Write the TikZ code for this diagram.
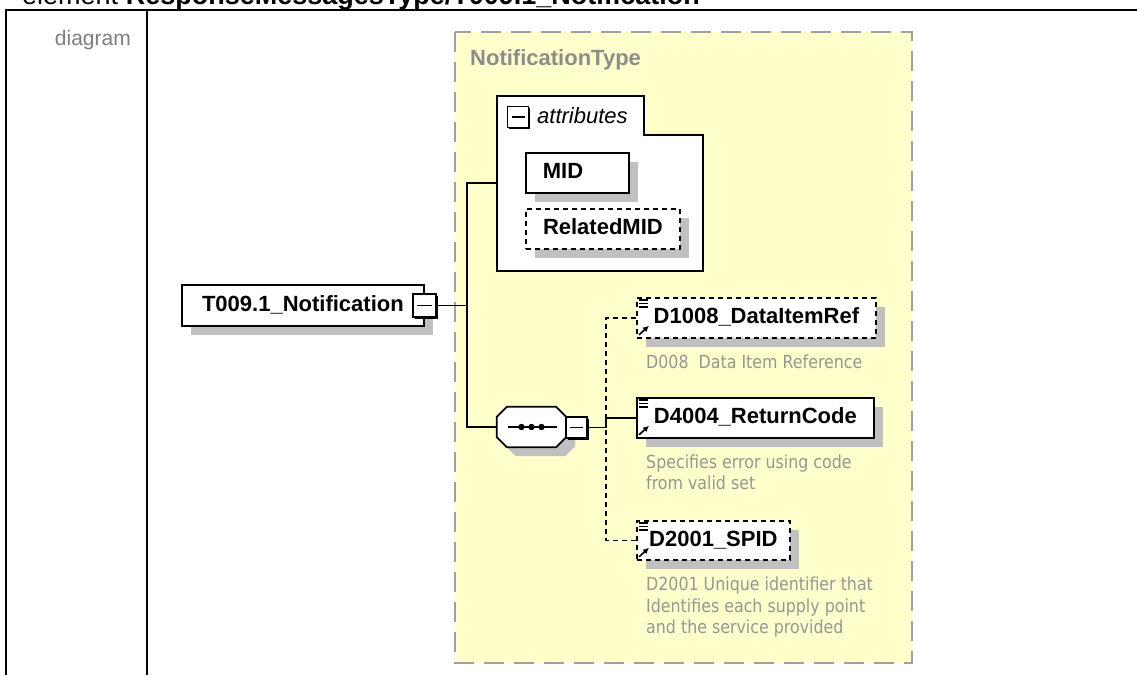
\documentclass[tikz,border=0pt]{standalone}
\usepackage{fontspec}
\setmainfont{Liberation Sans}
\newfontfamily\descfont[FakeStretch=0.88]{DejaVu Sans}
\usetikzlibrary{shadows, arrows.meta}
\definecolor{typeyellow}{HTML}{FFFFCC}
\definecolor{typeborder}{HTML}{A0A0A0}
\definecolor{shadowgray}{HTML}{C0C0C0}
\definecolor{desctext}{HTML}{969696}
\definecolor{labelgray}{HTML}{8C8C8C}

\begin{document}
\begin{tikzpicture}[x=1pt, y=-1pt,
    elem/.style={draw, fill=white, line width=1.8pt, anchor=north west, minimum height=40pt,
      inner xsep=0pt, inner ysep=0pt, text height=16pt, text depth=4pt,
      font=\bfseries\fontsize{22}{24}\selectfont,
      drop shadow={shadow xshift=9pt, shadow yshift=-9pt, fill=shadowgray, opacity=1}},
    optional/.style={dash pattern=on 5pt off 4pt},
    collapse/.style={draw, fill=white, line width=1.2pt, minimum size=21pt, inner sep=0pt,
      drop shadow={shadow xshift=1.5pt, shadow yshift=-1.5pt, fill=black, opacity=1},
      path picture={\draw[line width=1.4pt] ([xshift=4pt]path picture bounding box.west) -- ([xshift=-4pt]path picture bounding box.east);}},
    conn/.style={line width=1.4pt},
    desc/.style={anchor=north west, inner sep=0pt, align=left, text=desctext,
      font=\descfont\fontsize{18}{21.5}\selectfont}]
    \clip (0,0) rectangle (1137,675);
    % title and table
    \node[anchor=base west, inner sep=0pt, font=\fontsize{27}{29}\selectfont] (title) at (22,4)
        {element \textbf{ResponseMessagesType/T009.1\_Notification}};
    \draw[line width=2pt] (6,675) -- (6,10) -- (1137,10);
    \draw[line width=2pt] (147,10) -- (147,675);
    \node[anchor=base east, inner sep=0pt, text=labelgray!90!black, font=\fontsize{21}{24}\selectfont] (cell) at (131,45) {diagram};
    % complex type
    \draw[typeborder, line width=2.5pt, dash pattern=on 20pt off 10pt, fill=typeyellow] (455,32) rectangle (912,663);
    \node[anchor=base west, inner sep=0pt, text=labelgray, font=\bfseries\fontsize{22}{24}\selectfont] (ctype) at (470,65) {NotificationType};
    % attributes
    \draw[line width=1.8pt, fill=white] (497,96) -- (644,96) -- (644,135) -- (703,135) -- (703,271) -- (497,271) -- cycle;
    \node[collapse] (attrm) at (518,117) {};
    \node[anchor=west, inner sep=0pt, font=\itshape\fontsize{22}{24}\selectfont] (attrlabel) at (537,115.5) {attributes};
    \coordinate (attr) at (497,183);
    \node[elem, inner xsep=17pt, text width=69pt, align=left] (mid) at (525,152) {MID};
    \node[elem, optional, minimum width=154pt] (relmid) at (525,208) {RelatedMID};
    % element
    \node[elem, minimum width=242pt, minimum height=41pt] (notif) at (181,284) {T009.1\_Notification};
    \node[collapse, minimum size=23pt] (notifm) at (424.5,305.5) {};
    % sequence
    \node[minimum width=69pt, minimum height=40pt, inner sep=0pt] (seq) at (531.5,427) {};
    \draw[line width=1.8pt, fill=white, preaction={fill=shadowgray, transform canvas={shift={(9pt,-9pt)}}}]
        ([xshift=10pt]seq.north west) -- ([xshift=-10pt]seq.north east) -- ([yshift=-10pt]seq.north east)
        -- ([yshift=10pt]seq.south east) -- ([xshift=-10pt]seq.south east) -- ([xshift=10pt]seq.south west)
        -- ([yshift=10pt]seq.south west) -- ([yshift=-10pt]seq.north west) -- cycle;
    \draw[conn] ([xshift=-24pt]seq.center) -- ([xshift=25pt]seq.center);
    \foreach \dx in {-10,0,10}
        \fill ([xshift=\dx pt]seq.center) circle (3.2pt);
    \node[collapse] (seqm) at (576.5,427.5) {};
    % children
    \node[elem, optional, minimum width=239pt] (d1008) at (636,297) {D1008\_DataItemRef};
    \node[elem, minimum width=237pt] (d4004) at (636,397) {D4004\_ReturnCode};
    \node[elem, optional, minimum width=153pt, minimum height=39pt] (d2001) at (636,520) {D2001\_SPID};
    \foreach \n in {d1008,d4004,d2001} {
        \foreach \dy in {3,6.5,10}
            \draw[line width=1.2pt] ([xshift=3pt,yshift=-\dy pt]\n.north west) -- ++(9pt,0);
        \draw[line width=1.6pt, -{Latex[length=6pt,width=6pt]}] ([xshift=3pt,yshift=4pt]\n.south west) -- ++(10pt,9pt);
    }
    \node[desc] (d1008doc) at (646,354.3) {D008~~Data Item Reference};
    \node[desc] (d4004doc) at (646,454.3) {Specifies error using code\\from valid set};
    \node[desc] (d2001doc) at (646,576.8) {D2001 Unique identifier that\\Identifies each supply point\\and the service provided};
    % connectors
    \coordinate (fork) at (467,305.5);
    \coordinate (choice) at (606,427.5);
    \draw[conn] (notifm.east) -- (fork);
    \draw[conn] (attr) -- (attr -| fork) -- (seq.west -| fork) -- (seq.west);
    \draw[conn] (seqm.east) -- (choice) -- (choice |- d4004.west) -- (d4004.west);
    \draw[conn, optional] (d1008.west) -| (choice);
    \draw[conn, optional] (d2001.west) -| (choice);
\end{tikzpicture}
\end{document}
